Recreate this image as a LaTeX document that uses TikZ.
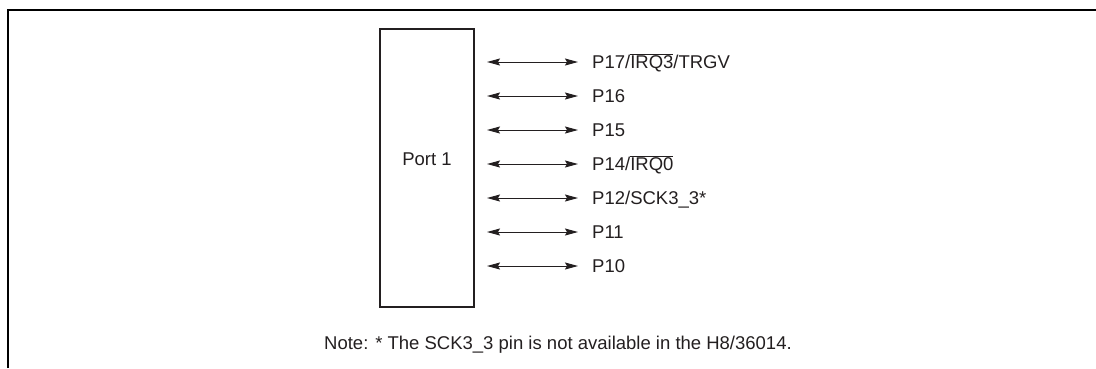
\documentclass[tikz,border=0pt]{standalone}
\usepackage{fontspec}
\setmainfont{Liberation Sans}
\usetikzlibrary{arrows.meta}
\definecolor{ink}{HTML}{231F20}
\newcommand{\ovl}[1]{$\overline{\mbox{#1}}$}
\begin{document}
\begin{tikzpicture}[x=1pt,y=-1pt,
  txt/.style={inner sep=0pt,text=ink,font=\fontsize{18.5}{22}\selectfont},
  lbl/.style={txt,anchor=base west},
  sig/.style={draw=ink,line width=1pt,{Stealth[length=13pt,width=7pt,inset=2pt]}-{Stealth[length=13pt,width=7pt,inset=2pt]}},
  frameline/.style={line width=2pt},
  portbox/.style={draw=ink,line width=2pt,minimum width=94pt,minimum height=278pt,inner sep=0pt}]
\useasboundingbox (0,0) rectangle (1096,368);
\draw[frameline] (8,368) -- (8,10) -- (1096,10);
\node[portbox] (port) at (427,168) {};
\node[txt,anchor=base] (portlbl) at (427,165.6) {Port 1};
\foreach \i/\y/\t in {1/62/{P17/\ovl{IRQ3}/TRGV},2/96/{P16},3/130/{P15},4/164/{P14/\ovl{IRQ0}},5/198/{P12/SCK3\_3*},6/232/{P11},7/266/{P10}}{
  \coordinate (s\i) at (487,\y);
  \coordinate (e\i) at (578,\y);
  \node[lbl] (l\i) at (592,\y+6.6) {\t};
  \draw[sig] (s\i) -- (e\i);
}
\node[txt,anchor=base] (note) at (558,349.6) {Note: * The SCK3\_3 pin is not available in the H8/36014.};
\end{tikzpicture}
\end{document}
